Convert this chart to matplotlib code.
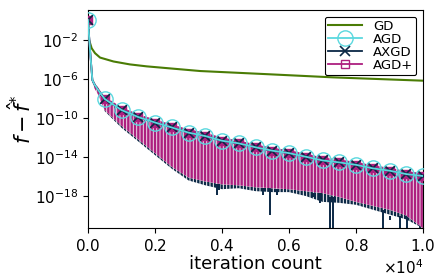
import matplotlib
matplotlib.use('Agg')
import matplotlib.pyplot as plt
import numpy as np

GREEN = '#4a7c05'; CYAN = '#5ad8de'; NAVY = '#0b2845'; MAG = '#ad1f7f'
plt.rcParams['hatch.linewidth'] = 1.7

# ---- data (exponents of 10) ----
gd_k = [0, 10, 30, 60, 110, 210, 360, 760, 1250, 1750, 2750, 3350, 5330, 7320, 10000]
gd_log = [0.05, -1.2, -2.0, -2.3, -2.85, -3.35, -3.8, -4.2, -4.5, -4.7, -5.0, -5.18, -5.5, -5.83, -6.17]

# value at the marked iterations (every 500) plus the first steep part
up_k = [0, 60, 130, 200, 300, 400, 500, 1000, 1500, 2000, 2500, 3000, 3500, 4000, 4500,
        5000, 5500, 6000, 6500, 7000, 7500, 8000, 8500, 9000, 9500, 10000]
agd_up_log = [0.05, -3.0, -6.1, -6.6, -7.1, -7.6, -8.05, -9.18, -9.9, -10.46, -10.97, -11.5, -11.85,
              -12.33, -12.6, -13.0, -13.35, -13.6, -13.97, -14.35, -14.55, -14.8, -15.16, -15.4, -15.75, -15.95]
# peaks of the oscillations (slightly above the marked values)
peak_log = [0.05, -2.9, -5.9, -6.4, -6.85, -7.35, -7.8, -8.9, -9.6, -10.15, -10.65, -11.15, -11.5,
            -12.0, -12.3, -12.7, -13.05, -13.3, -13.65, -14.05, -14.25, -14.5, -14.85, -15.1, -15.45, -15.65]

# lower envelope of the oscillations
low_k = up_k
agdp_low_log = [0.05, -3.0, -6.3, -7.0, -7.6, -8.4, -9.2, -10.8, -12.2, -13.6, -15.0, -16.1, -16.5,
                -16.8, -16.9, -17.1, -17.2, -17.3, -17.5, -17.7, -18.1, -18.6, -19.0, -19.4, -20.0, -21.3]
axgd_low_log = [0.05, -3.0, -6.3, -7.0, -7.6, -8.4, -9.3, -11.0, -12.4, -13.8, -15.2, -16.4, -16.9,
                -17.3, -17.2, -17.5, -17.6, -17.6, -18.0, -18.6, -18.7, -18.9, -19.4, -19.9, -20.4, -21.3]

# deep single dips of AXGD
spike_k = [3840, 3900, 5210, 5430, 5650, 6730, 6930, 7230, 7320, 8810, 9020, 9310, 9510, 9700, 9910]
spike_log = [-17.9, -17.4, -17.9, -19.9, -17.9, -18.1, -18.7, -21.3, -21.3, -21.3, -20.5, -21.3, -19.8, -21.3, -20.3]

mark_idx = [i for i, k in enumerate(up_k) if k % 500 == 0]

fig = plt.figure(figsize=(4.43, 2.80), dpi=100)
ax = fig.add_axes([88/443, 1-228/280, 335/443, 218/280])

up = 10.0 ** np.array(agd_up_log)
low = 10.0 ** np.array(agdp_low_log)
# oscillation bands drawn as vertical stripes
ax.fill_between(low_k, 10.0 ** np.array(axgd_low_log), low,
                facecolor='none', edgecolor=NAVY, hatch='|||||', linewidth=0, zorder=1)
ax.fill_between(low_k, low, 10.0 ** np.array(peak_log),
                facecolor='#eedbe7', edgecolor=MAG, hatch='|||||', linewidth=0, zorder=1.5)
ax.vlines(spike_k, 10.0 ** np.array(spike_log), low[np.searchsorted(low_k, spike_k)],
          color=NAVY, lw=1.4, zorder=1)

ax.plot(gd_k, 10.0 ** np.array(gd_log), color=GREEN, lw=1.5, label='GD', zorder=3)
ax.plot(up_k, up, color=CYAN, lw=1.3, marker='o', ms=11, mfc='none', mec=CYAN, mew=1.0,
        markevery=mark_idx, label='AGD', zorder=5)
ax.plot(up_k, up, color=NAVY, lw=1.3, marker='x', ms=7, mew=1.2,
        markevery=mark_idx, label='AXGD', zorder=4)
ax.plot(up_k, up, color=MAG, lw=1.3, marker='s', ms=6, mfc=MAG, mec=MAG, mew=1.0,
        markevery=mark_idx, label='AGD+', zorder=3.5)

ax.set_yscale('log')
ax.set_xlim(0, 10000)
ax.set_ylim(10 ** -21.28, 10 ** 1.08)
ax.set_yticks([1e-2, 1e-6, 1e-10, 1e-14, 1e-18])
ax.yaxis.set_minor_locator(matplotlib.ticker.NullLocator())
ax.set_xticks([0, 2000, 4000, 6000, 8000, 10000])
ax.ticklabel_format(style='sci', axis='x', scilimits=(0, 0), useMathText=True)
ax.tick_params(labelsize=11)
ax.xaxis.get_offset_text().set_fontsize(11)
ax.set_xlabel('iteration count', fontsize=13, labelpad=1)
ax.set_ylabel(r'$f - \hat{f}^{*}$', fontsize=15, labelpad=0)

leg = ax.legend(loc='upper right', fontsize=9.5, labelspacing=0.0, handlelength=2.6,
                handleheight=0.6, borderpad=0.25, borderaxespad=0.5, framealpha=1,
                edgecolor='black')
leg.get_frame().set_linewidth(0.8)
# legend handles show hollow markers
leg.legend_handles[3].set_markerfacecolor('none')

plt.savefig('out.png', dpi=100)
plt.close()
